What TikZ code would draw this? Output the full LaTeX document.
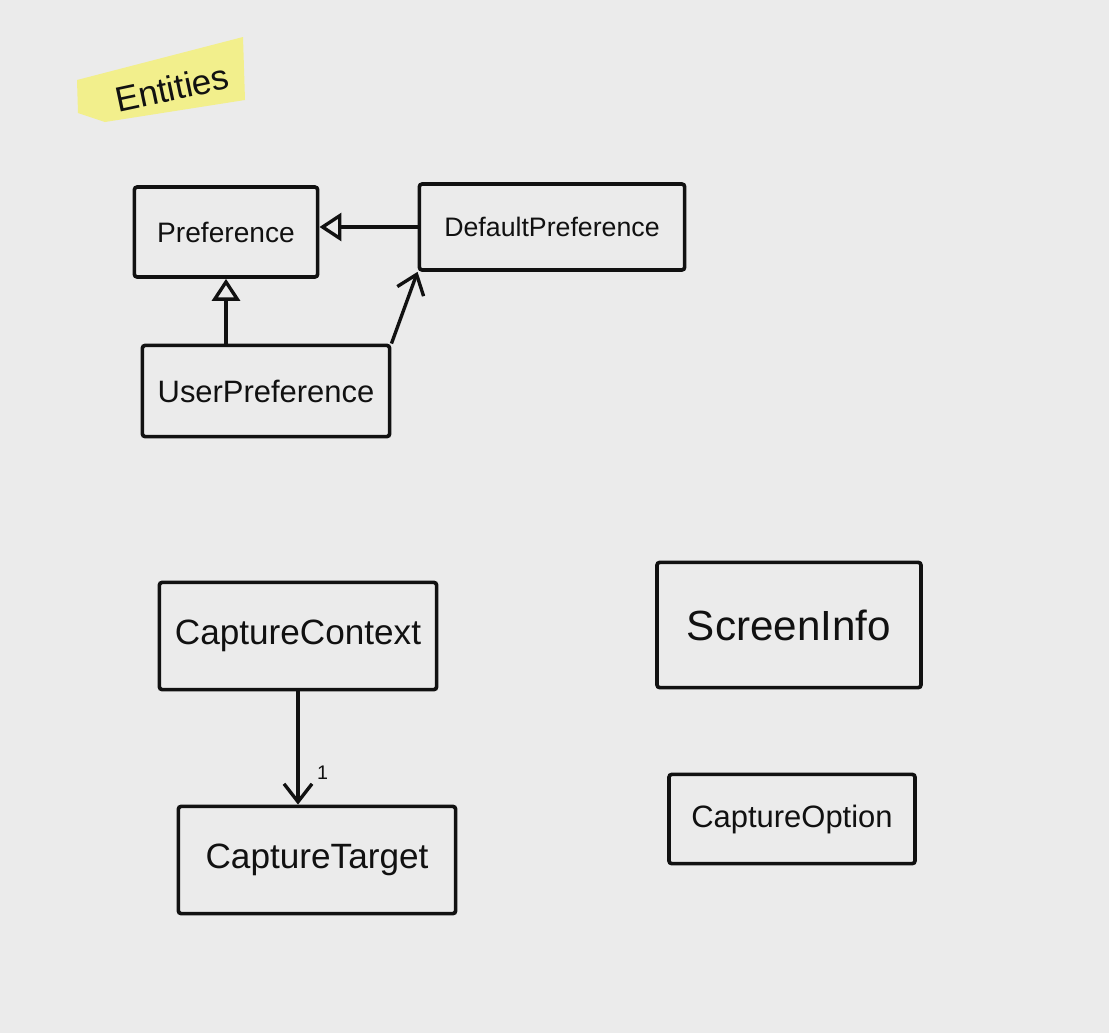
\documentclass[tikz,border=0pt]{standalone}
\usepackage{fontspec}
\setmainfont{Liberation Sans}
\usetikzlibrary{arrows.meta, positioning, calc}
\definecolor{paper}{HTML}{EBEBEB}
\definecolor{hilite}{HTML}{F2EF8C}
\definecolor{ink}{HTML}{111111}
\tikzset{
  >=Latex,
  cls/.style={
    draw=ink, line width=2.6pt, rounded corners=2pt, inner sep=0pt,
    text=ink, font=\fontsize{#1}{#1}\selectfont
  },
  cls/.default=20pt,
  inh/.style={-{Triangle[open, length=5.5mm, width=7mm]}, line width=2.4pt, draw=ink},
  dep/.style={-{Straight Barb[length=4.5mm, width=7mm]}, line width=2.4pt, draw=ink},
  mult/.style={font=\fontsize{14pt}{14pt}\selectfont, text=ink}
}
\begin{document}
\begin{tikzpicture}[x=0.025cm, y=-0.025cm]
  \fill[paper] (0,0) rectangle (1109,1033);
  \useasboundingbox (0,0) rectangle (1109,1033);
  % title tag
  \fill[hilite] (77,80) -- (243,37) -- (245,100) -- (105,122) -- (78,113) -- cycle;
  \node[rotate=12, text=ink, font=\fontsize{25pt}{25pt}\selectfont] (entities) at (172,88) {Entities};
  % preference classes
  \node[cls=20pt, minimum width=4.58cm, minimum height=2.25cm] (pref) at (226,232) {Preference};
  \node[cls=19pt, minimum width=6.63cm, minimum height=2.15cm] (defpref) at (552,227) {DefaultPreference};
  \node[cls=22pt, minimum width=6.18cm, minimum height=2.28cm] (userpref) at (266,391) {UserPreference};
  \draw[inh] (defpref.west) -- (defpref.west -| pref.east);
  \draw[inh] (userpref.north -| pref.south) -- (pref.south);
  \draw[dep] (userpref.north east) -- (defpref.south west);
  % capture classes
  \node[cls=25pt, minimum width=6.93cm, minimum height=2.68cm] (ctx) at (298,636) {CaptureContext};
  \node[cls=25pt, minimum width=6.93cm, minimum height=2.68cm] (target) at (317,860) {CaptureTarget};
  \node[cls=30pt, minimum width=6.6cm, minimum height=3.13cm] (screen) at (789,625) {ScreenInfo};
  \node[cls=22pt, minimum width=6.15cm, minimum height=2.23cm] (option) at (792,819) {CaptureOption};
  \draw[dep] (ctx.south) -- (ctx.south |- target.north)
    node[mult, pos=0.72, right=9pt] {1};
\end{tikzpicture}
\end{document}
